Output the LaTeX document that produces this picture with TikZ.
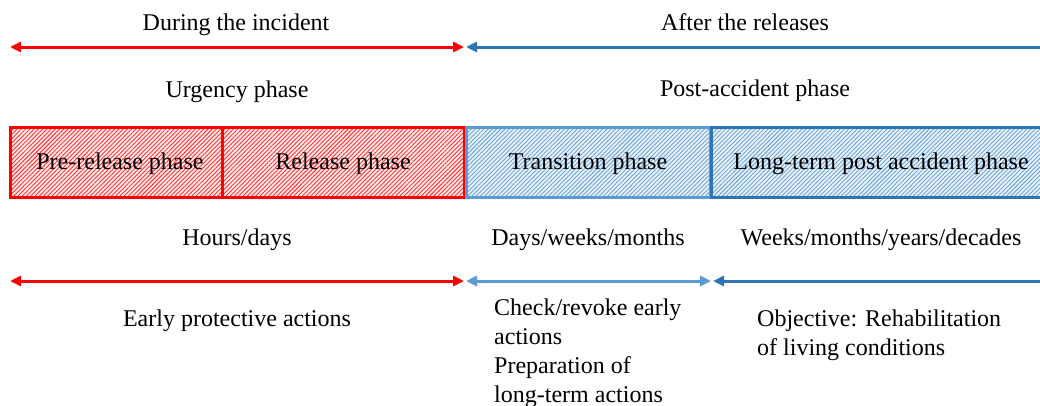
\documentclass[tikz,border=0pt]{standalone}
\usepackage{fontspec}
\setmainfont{Liberation Serif}
\usetikzlibrary{patterns.meta,arrows.meta}
\definecolor{dblue}{RGB}{46,117,182}
\definecolor{lblue}{RGB}{91,155,213}
\definecolor{pred}{RGB}{255,0,0}
\tikzset{
  mytip/.tip={Triangle[length=11pt,width=10pt]},
  lbl/.style={font=\fontsize{24}{29}\selectfont, inner sep=0pt, anchor=base},
  para/.style={font=\fontsize{24}{28.8}\selectfont, inner sep=0pt, align=left, anchor=north west},
  arr/.style={line width=3pt},
  phasebox/.style={line width=3pt, minimum height=70pt, inner sep=0pt, outer sep=0pt, anchor=center},
  redhatch/.style={preaction={fill=pred!8}, pattern={Lines[angle=45,distance=3pt,line width=0.9pt]}, pattern color=pred!80},
  bluehatch/.style={preaction={fill=lblue!12}, pattern={Lines[angle=45,distance=3pt,line width=0.9pt]}, pattern color=lblue!90},
}
\begin{document}
\begin{tikzpicture}[x=1pt,y=1pt]
\useasboundingbox (0,0) rectangle (1040,-405);
\clip (0,0) rectangle (1040,-405);
% top labels
\node[lbl] (during) at (236,-30) {During the incident};
\node[lbl] (after) at (745,-30) {After the releases};
\node[lbl] (urg) at (237,-97) {Urgency phase};
\node[lbl] (post) at (755,-96) {Post-accident phase};
% top arrows
\coordinate (ta) at (10,-47);
\coordinate (tb) at (464,-47);
\coordinate (tc) at (466,-47);
\coordinate (td) at (1045,-47);
\draw[arr,pred,{mytip}-{mytip}] (ta) -- (tb);
\draw[arr,dblue,{mytip}-] (tc) -- (td);
% boxes
\node[phasebox, draw=pred, minimum width=212pt, redhatch] (pre) at (116,-162) {};
\node at (120,-164) [lbl, anchor=center] (pret) {Pre-release phase};
\node[phasebox, draw=pred, minimum width=242pt, redhatch] (rel) at (343,-162) {};
\node at (343,-164) [lbl, anchor=center] (relt) {Release phase};
\node[phasebox, draw=lblue, minimum width=244pt, bluehatch] (tra) at (588,-162) {};
\node at (588,-164) [lbl, anchor=center] (trat) {Transition phase};
\node[phasebox, draw=dblue, minimum width=345pt, bluehatch] (lt) at (883.5,-162) {};
\node at (881,-164) [lbl, anchor=center] (ltt) {Long-term post accident phase};
% durations
\node[lbl] (hours) at (237,-245) {Hours/days};
\node[lbl] (days) at (588,-245) {Days/weeks/months};
\node[lbl] (weeks) at (881,-245) {Weeks/months/years/decades};
% bottom arrows
\coordinate (ba) at (10,-281);
\coordinate (bb) at (464,-281);
\coordinate (bc) at (466,-281);
\coordinate (bd) at (711,-281);
\coordinate (be) at (713,-281);
\coordinate (bf) at (1045,-281);
\draw[arr,pred,{mytip}-{mytip}] (ba) -- (bb);
\draw[arr,lblue,{mytip}-{mytip}] (bc) -- (bd);
\draw[arr,dblue,{mytip}-] (be) -- (bf);
% bottom texts
\node[lbl] (early) at (237,-326) {Early protective actions};
\node[para] (check) at (494,-299) {Check/revoke early\\actions\\Preparation of\\long-term actions};
\node[para] (obj) at (757,-310) {Objective: Rehabilitation\\of living conditions};
\end{tikzpicture}
\end{document}
